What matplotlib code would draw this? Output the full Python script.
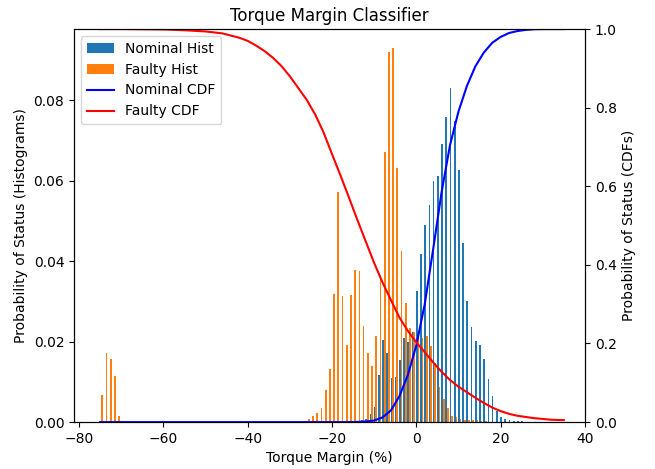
import numpy as np
import matplotlib
matplotlib.use("Agg")
import matplotlib.pyplot as plt

# histogram bins (torque margin, %), width 1
bin_start = -75.2
n_bins = 111

# faulty histogram: probability per bin, two groups of consecutive bins
faulty_low_first = -74.7
faulty_low = [0.0067, 0.0171, 0.0156, 0.0115, 0.0015]
faulty_main_first = -27.7
faulty_main = [0.0002, 0.0003, 0.0007, 0.0015, 0.0023, 0.0036, 0.0079, 0.0132,
               0.0319, 0.0573, 0.0313, 0.0193, 0.0317, 0.0378, 0.0376, 0.0240,
               0.0173, 0.0140, 0.0215, 0.0367, 0.0671, 0.0921, 0.0931, 0.0631,
               0.0425, 0.0297, 0.0234, 0.0225, 0.0210, 0.0210, 0.0215, 0.0190,
               0.0148, 0.0087, 0.0058, 0.0036, 0.0015, 0.0013, 0.0008, 0.0006,
               0.0005, 0.0004, 0.0004, 0.0003, 0.0002, 0.0001]

# nominal histogram: probability per bin
nominal_first = -13.7
nominal = [0.0002, 0.0005, 0.0008, 0.0019, 0.0037, 0.0116, 0.0205, 0.0172,
           0.0110, 0.0111, 0.0154, 0.0208, 0.0200, 0.0224, 0.0326, 0.0418,
           0.0489, 0.0541, 0.0600, 0.0612, 0.0691, 0.0760, 0.0832, 0.0750,
           0.0627, 0.0446, 0.0302, 0.0236, 0.0202, 0.0192, 0.0156, 0.0107,
           0.0066, 0.0028, 0.0013, 0.0007, 0.0004, 0.0003, 0.0002, 0.0002]

# CDF curves
cdf_x = [-75, -70, -65, -60, -55, -50, -46, -42, -40, -38, -36, -34, -32, -30,
         -28, -26, -24, -22, -20, -18, -16, -14, -12, -10, -8, -6, -4, -2,
         0, 2, 4, 6, 8, 10, 12, 14, 16, 18, 20, 22, 24, 26, 28, 30, 32, 35]
nominal_cdf = [0, 0, 0, 0, 0, 0, 0, 0, 0, 0, 0, 0, 0, 0,
               0, 0, 0, 0, 0, 0, 0, 0.0005, 0.0015, 0.004, 0.012, 0.03, 0.066, 0.12,
               0.195, 0.30, 0.44, 0.585, 0.705, 0.79, 0.855, 0.905, 0.94, 0.965,
               0.98, 0.99, 0.995, 0.998, 0.9995, 1.0, 1.0, 1.0]
faulty_cdf = [1.0, 1.0, 0.9995, 0.999, 0.997, 0.994, 0.989, 0.978, 0.97, 0.958,
              0.944, 0.927, 0.906, 0.88, 0.85, 0.82, 0.783, 0.737, 0.682, 0.628,
              0.572, 0.515, 0.46, 0.405, 0.355, 0.31, 0.266, 0.232,
              0.203, 0.178, 0.152, 0.128, 0.107, 0.09, 0.076, 0.062, 0.049, 0.037,
              0.028, 0.021, 0.016, 0.013, 0.010, 0.008, 0.006, 0.005]


def main():
	edges = bin_start + np.arange(n_bins + 1)

	nom_x = nominal_first + np.arange(len(nominal))
	fault_x = np.concatenate([faulty_low_first + np.arange(len(faulty_low)),
	                          faulty_main_first + np.arange(len(faulty_main))])
	fault_p = faulty_low + faulty_main

	fig = plt.figure(figsize=(6.55, 4.69), dpi=100)
	ax = fig.add_subplot(111)
	fig.subplots_adjust(left=0.113, right=0.893, bottom=0.1, top=0.938)

	ax.hist([nom_x, fault_x], bins=edges, weights=[nominal, fault_p],
	        color=['tab:blue', 'tab:orange'], label=['Nominal Hist', 'Faulty Hist'])
	ax.set_xlim(-81.2, 40.0)
	ax.set_xlabel('Torque Margin (%)')
	ax.set_ylabel('Probability of Status (Histograms)')
	ax.set_title('Torque Margin Classifier')

	ax2 = ax.twinx()
	ax2.plot(cdf_x, nominal_cdf, color='blue', label='Nominal CDF')
	ax2.plot(cdf_x, faulty_cdf, color='red', label='Faulty CDF')
	ax2.set_ylim(0, 1)
	ax2.set_ylabel('Probability of Status (CDFs)')

	h1, l1 = ax.get_legend_handles_labels()
	h2, l2 = ax2.get_legend_handles_labels()
	ax2.legend(h1 + h2, l1 + l2, loc='upper left')

	fig.savefig('out.png', dpi=100)


if __name__ == "__main__":
	main()
